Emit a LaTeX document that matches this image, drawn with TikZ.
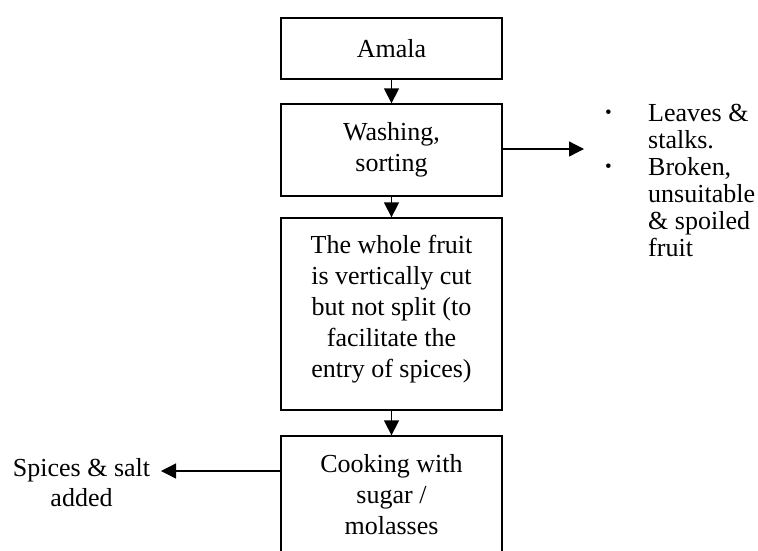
\documentclass[tikz,border=0pt]{standalone}
\usepackage{fontspec}
\setmainfont{Liberation Serif}
\usetikzlibrary{arrows.meta,calc}
\newcommand{\listdot}{\makebox[43pt][l]{\fontsize{19}{19}\selectfont\raisebox{2.5pt}{\textbullet}}}
\newcommand{\listgap}{\hspace*{43pt}}
\begin{document}
\begin{tikzpicture}[x=1pt,y=-1pt,
  every node/.style={font=\fontsize{26}{31}\selectfont},
  stage/.style={draw,line width=1.3pt,minimum width=221pt,inner sep=0pt,align=center},
  flow/.style={line width=1.3pt,-{Triangle[length=15pt,width=15pt]}},
  note/.style={inner sep=0pt,align=left}]
\clip (0,0) rectangle (758,550);

% process stages
\node[stage,minimum height=61pt] (amala) at (391.5,48.5) {Amala};
\node[stage,minimum height=92pt] (wash) at (391.5,150) {Washing,\\sorting};
\node[stage,minimum height=192pt,
  label={[align=center,yshift=4.5pt]center:The whole fruit\\is vertically cut\\but not split (to\\facilitate the\\entry of spices)}]
  (cut) at (391.5,314) {};
\node[stage,minimum height=118pt] (cook) at (391.5,495) {Cooking with\\sugar /\\molasses};

% side notes
\node[note,anchor=north west,font=\fontsize{26}{27}\selectfont] (removed) at (605,104)
  {\listdot Leaves \&\\
   \listgap stalks.\\
   \listdot Broken,\\
   \listgap unsuitable\\
   \listgap \& spoiled\\
   \listgap fruit};
\node[inner sep=0pt,align=center,font=\fontsize{26}{30}\selectfont] (added) at (81.5,483)
  {Spices \& salt\\added};

\coordinate (outTip) at (584,149);
\coordinate (inTip) at (161,471);

% connectors
\draw[flow] (amala) -- (wash);
\draw[flow] (wash) -- (cut);
\draw[flow] (cut) -- (cook);
\draw[flow] (wash.east |- outTip) -- (outTip);
\draw[flow] (cook.west |- inTip) -- (inTip);
\end{tikzpicture}
\end{document}
